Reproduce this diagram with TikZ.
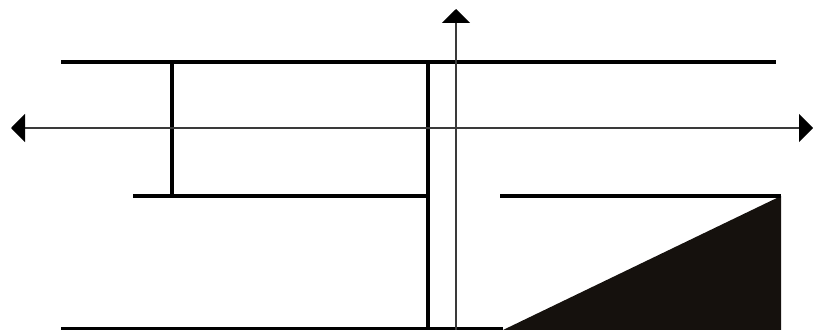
\documentclass[tikz,border=0pt]{standalone}
\usetikzlibrary{arrows.meta}
\definecolor{fillblk}{HTML}{15110D}
\definecolor{axisgray}{HTML}{3A3A3A}
\tikzset{
  wall/.style={line width=4pt, black},
  axisline/.style={line width=2pt, axisgray, -{Triangle[length=14pt,width=28pt,fill=black,color=black]}},
}
\begin{document}
\begin{tikzpicture}[x=1pt,y=-1pt]
\useasboundingbox (0,0) rectangle (813,329);
% coordinates
\coordinate (tl) at (61,62);
\coordinate (tr) at (776,62);
\coordinate (vl1) at (172,62);
\coordinate (vl2) at (172,196);
\coordinate (ml) at (133,196);
\coordinate (mr) at (428,196);
\coordinate (vt) at (428,62);
\coordinate (vb) at (428,330);
\coordinate (rl) at (500,196);
\coordinate (rr) at (781,196);
\coordinate (bl) at (61,329);
\coordinate (br) at (503,329);
\coordinate (t1) at (503,330);
\coordinate (t2) at (781,196);
\coordinate (t3) at (781,330);
\coordinate (ax0) at (456,128);
\coordinate (axl) at (11,128);
\coordinate (axr) at (813,128);
\coordinate (ayb) at (456,330);
\coordinate (ayt) at (456,9);
% filled triangle
\fill[fillblk] (t1) -- (t2) -- (t3) -- cycle;
% walls
\draw[wall] (tl) -- (tr);
\draw[wall] (vl1) -- (vl2);
\draw[wall] (ml) -- (mr);
\draw[wall] (vt) -- (vb);
\draw[wall] (rl) -- (rr);
\draw[wall] (bl) -- (br);
% axes
\draw[axisline] (ax0) -- (axl);
\draw[axisline] (ax0) -- (axr);
\draw[axisline] (ayb) -- (ayt);
\end{tikzpicture}
\end{document}
